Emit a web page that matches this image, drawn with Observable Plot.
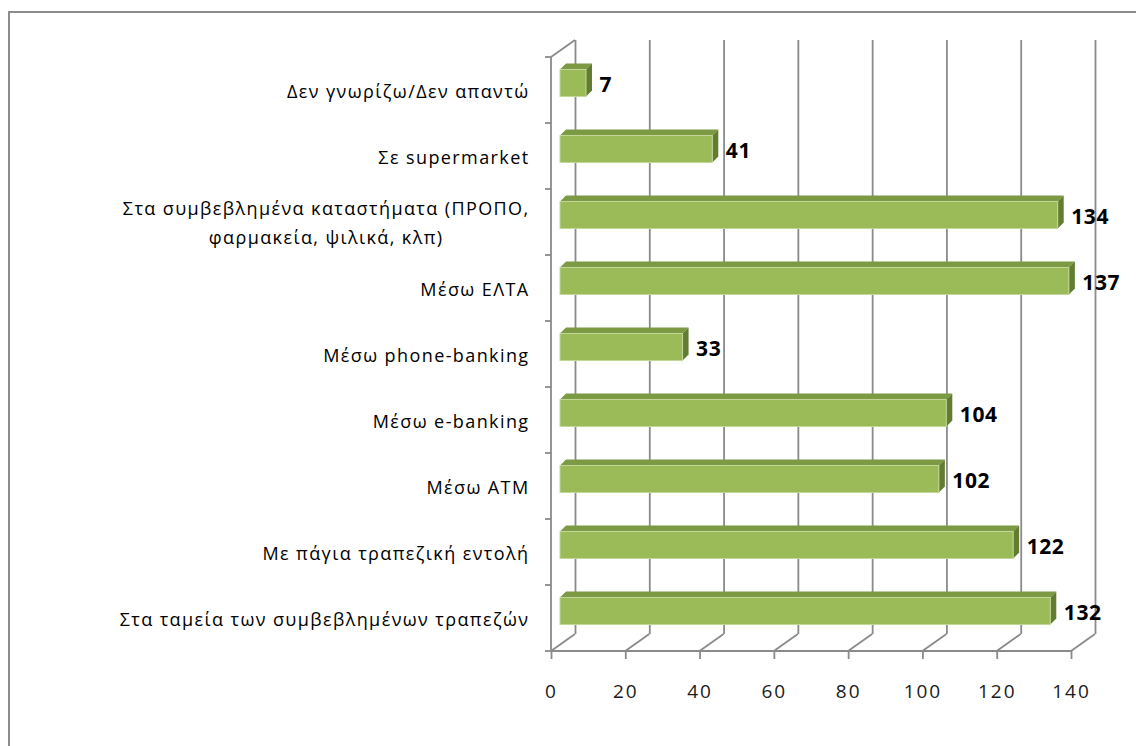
<!DOCTYPE html>
<html>
<head>
<meta charset="utf-8">
<script src="https://cdn.jsdelivr.net/npm/d3@7"></script>
<script src="https://cdn.jsdelivr.net/npm/@observablehq/plot@0.6"></script>
<style>
  html, body { margin: 0; padding: 0; background: #ffffff; }
  #chart { width: 1136px; height: 746px; overflow: hidden; }
</style>
</head>
<body>
<div id="chart"></div>
<script>
// ---- data ----
const categories = [
  "Δεν γνωρίζω/Δεν απαντώ",
  "Σε supermarket",
  "Στα συμβεβλημένα καταστήματα (ΠΡΟΠΟ, φαρμακεία, ψιλικά, κλπ)",
  "Μέσω ΕΛΤΑ",
  "Μέσω phone-banking",
  "Μέσω e-banking",
  "Μέσω ΑΤΜ",
  "Με πάγια τραπεζική εντολή",
  "Στα ταμεία των συμβεβλημένων τραπεζών"
];
const values = [7, 41, 134, 137, 33, 104, 102, 122, 132];
const xTicks = [0, 20, 40, 60, 80, 100, 120, 140];
const wrappedLabels = {
  "Στα συμβεβλημένα καταστήματα (ΠΡΟΠΟ, φαρμακεία, ψιλικά, κλπ)":
    "Στα συμβεβλημένα καταστήματα (ΠΡΟΠΟ,\nφαρμακεία, ψιλικά, κλπ)"
};

// ---- styling ----
const GRID = "#8a8a8a";
const FRONT = "#9bbb59";
const TOPC = "#7c9a43";
const SIDE = "#627c32";
const DEPTH = [24, -17];       // back wall offset (px)
const BAR_SHIFT = [9, -7];     // bar front face offset (px)
const BAR_DEPTH = [6, -6];     // bar thickness (px)
const FONT = "'Open Sans', 'Noto Sans', sans-serif";

const rows = categories.map((c, i) => ({category: c, value: values[i]}));

function border(index, scales, vals, dims) {
  const g = d3.create("svg:g").attr("fill", "none").attr("stroke", "#8c8c8c").attr("stroke-width", 2);
  g.append("path").attr("d", `M9,${dims.height}V12H${dims.width}`);
  return g.node();
}

function frame3d(index, {x, y}, vals, dims) {
  const g = d3.create("svg:g").attr("fill", "none").attr("stroke", GRID).attr("stroke-width", 1.8);
  const top = dims.marginTop, bottom = dims.height - dims.marginBottom;
  const x0 = x(xTicks[0]);
  for (const t of xTicks) {
    g.append("line").attr("x1", x(t)).attr("y1", bottom)
      .attr("x2", x(t) + DEPTH[0]).attr("y2", bottom + DEPTH[1]);
  }
  g.append("line").attr("x1", x0).attr("x2", x(xTicks[xTicks.length - 1]))
    .attr("y1", bottom).attr("y2", bottom);
  g.append("line").attr("x1", x0).attr("x2", x0).attr("y1", top).attr("y2", bottom);
  g.append("line").attr("x1", x0).attr("y1", top).attr("x2", x0 + DEPTH[0]).attr("y2", top + DEPTH[1]);
  for (let i = 0; i <= categories.length; i++) {
    const yy = i < categories.length ? y(categories[i]) : bottom;
    g.append("line").attr("x1", x0 - 6).attr("x2", x0).attr("y1", yy).attr("y2", yy);
  }
  return g.node();
}

function bars3d(index, {x, y}, vals, dims) {
  const bw = y(categories[1]) - y(categories[0]);
  const g = d3.create("svg:g");
  const [sx, sy] = BAR_DEPTH;
  rows.forEach(d => {
    const cy = y(d.category) + bw / 2 + BAR_SHIFT[1];
    const h = bw * 0.41;
    const t = cy - h / 2, b = cy + h / 2;
    const xa = x(0) + BAR_SHIFT[0], xb = x(d.value) + BAR_SHIFT[0];
    g.append("polygon").attr("fill", TOPC)
      .attr("points", [[xa, t], [xb, t], [xb + sx, t + sy], [xa + sx, t + sy]].join(" "));
    g.append("polygon").attr("fill", SIDE)
      .attr("points", [[xb, t], [xb + sx, t + sy], [xb + sx, b + sy], [xb, b]].join(" "));
    g.append("rect").attr("fill", FRONT).attr("stroke", "#c4d79b").attr("stroke-width", 1)
      .attr("x", xa).attr("y", t).attr("width", xb - xa).attr("height", h);
  });
  return g.node();
}

const chart = Plot.plot({
  width: 1136,
  height: 746,
  marginLeft: 551,
  marginRight: 65,
  marginTop: 57,
  marginBottom: 95,
  style: {fontFamily: FONT, background: "#ffffff", color: "#000"},
  x: {domain: [0, 140], label: null},
  y: {type: "band", domain: categories, padding: 0, label: null},
  marks: [
    border,
    Plot.ruleX(xTicks, {x: d => d, dx: DEPTH[0], dy: DEPTH[1], stroke: GRID, strokeWidth: 1.8, strokeOpacity: 1}),
    frame3d,
    Plot.axisX({ticks: xTicks, tickSize: 8, tickPadding: 25, fontSize: 19, stroke: GRID, strokeWidth: 1.8, strokeOpacity: 1, fill: "#1a1a1a"}),
    Plot.axisY({tickSize: 0, tickPadding: 22, fontSize: 18, lineHeight: 1.6, dy: -2, fill: "#000",
      tickFormat: d => wrappedLabels[d] || d}),
    bars3d,
    Plot.text(rows, {x: "value", y: "category", text: d => String(d.value), dx: 22, dy: -5,
      textAnchor: "start", fontWeight: "bold", fontSize: 21, fill: "#000"})
  ]
});

document.getElementById("chart").appendChild(chart);

// wider letter spacing to mimic the stretched original typeface
chart.querySelectorAll('g[aria-label="y-axis tick label"]').forEach(g => g.style.letterSpacing = "1.4px");
chart.querySelectorAll('g[aria-label="x-axis tick label"]').forEach(g => g.style.letterSpacing = "2px");
chart.querySelectorAll('g[aria-label="text"]').forEach(g => g.style.letterSpacing = "0.6px");

// center multi-line category labels like the original
chart.querySelectorAll("text").forEach(t => {
  if (t.querySelectorAll("tspan").length > 1) {
    const w = t.getBBox().width;
    t.setAttribute("text-anchor", "middle");
    const tr = t.getAttribute("transform") || "";
    t.setAttribute("transform", tr + ` translate(${-w / 2},0)`);
  }
});
</script>
</body>
</html>
